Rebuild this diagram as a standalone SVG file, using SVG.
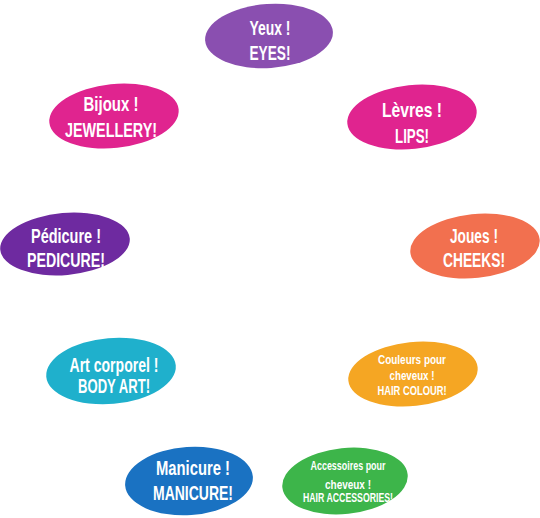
<svg xmlns="http://www.w3.org/2000/svg" width="540" height="518" viewBox="0 0 540 518">
<style>
.t{font-family:"Liberation Sans",Arial,sans-serif;font-weight:bold;fill:#fff;text-anchor:middle}
.b{font-size:21px}
.s{font-size:13px}
.xs{font-size:12px}
</style>
<rect width="540" height="518" fill="#fff"/>
<g id="connectors"/>
<g id="eyes"><ellipse cx="269" cy="36" rx="64" ry="32" fill="#8a4fb0" transform="rotate(-4 269 36)"/>
<text class="t b" x="270" y="35" textLength="41" lengthAdjust="spacingAndGlyphs">Yeux !</text><text class="t b" x="270" y="60" textLength="41" lengthAdjust="spacingAndGlyphs">EYES!</text></g>
<g id="jewellery"><ellipse cx="114" cy="116" rx="65" ry="32" fill="#e0248f" transform="rotate(-6 114 116)"/>
<text class="t b" x="111" y="111" textLength="55" lengthAdjust="spacingAndGlyphs">Bijoux !</text><text class="t b" x="111" y="137" textLength="92" lengthAdjust="spacingAndGlyphs">JEWELLERY!</text></g>
<g id="lips"><ellipse cx="412" cy="117" rx="65" ry="32" fill="#e0248f" transform="rotate(-6 412 117)"/>
<text class="t b" x="412" y="117" textLength="60" lengthAdjust="spacingAndGlyphs">Lèvres !</text><text class="t b" x="412" y="143" textLength="34" lengthAdjust="spacingAndGlyphs">LIPS!</text></g>
<g id="pedicure"><ellipse cx="65" cy="244" rx="65" ry="31" fill="#6e2aa0" transform="rotate(-5 65 244)"/>
<text class="t b" x="66" y="243" textLength="70" lengthAdjust="spacingAndGlyphs">Pédicure !</text><text class="t b" x="66" y="267" textLength="78" lengthAdjust="spacingAndGlyphs">PEDICURE!</text></g>
<g id="cheeks"><ellipse cx="475" cy="246" rx="65" ry="32" fill="#f2704f" transform="rotate(-6 475 246)"/>
<text class="t b" x="474" y="243" textLength="48" lengthAdjust="spacingAndGlyphs">Joues !</text><text class="t b" x="474" y="267" textLength="62" lengthAdjust="spacingAndGlyphs">CHEEKS!</text></g>
<g id="bodyart"><ellipse cx="111" cy="371" rx="65" ry="33" fill="#1fb0cc" transform="rotate(-5 111 371)"/>
<text class="t b" x="114" y="372" textLength="89" lengthAdjust="spacingAndGlyphs">Art corporel !</text><text class="t b" x="114" y="393" textLength="72" lengthAdjust="spacingAndGlyphs">BODY ART!</text></g>
<g id="haircolour"><ellipse cx="413" cy="374" rx="65" ry="32" fill="#f5a623" transform="rotate(-6 413 374)"/>
<text class="t s" x="412" y="364" textLength="68" lengthAdjust="spacingAndGlyphs">Couleurs pour</text><text class="t s" x="412" y="380" textLength="45" lengthAdjust="spacingAndGlyphs">cheveux !</text><text class="t s" x="412" y="395" textLength="69" lengthAdjust="spacingAndGlyphs">HAIR COLOUR!</text></g>
<g id="manicure"><ellipse cx="189" cy="481" rx="64" ry="34" fill="#1a72c2" transform="rotate(-4 189 481)"/>
<text class="t b" x="193" y="475" textLength="74" lengthAdjust="spacingAndGlyphs">Manicure !</text><text class="t b" x="193" y="500" textLength="80" lengthAdjust="spacingAndGlyphs">MANICURE!</text></g>
<g id="hairaccessories"><ellipse cx="345" cy="481" rx="63" ry="33" fill="#3db54a" transform="rotate(-6 345 481)"/>
<text class="t xs" x="348" y="470" textLength="75" lengthAdjust="spacingAndGlyphs">Accessoires pour</text><text class="t xs" x="348" y="489" textLength="46" lengthAdjust="spacingAndGlyphs">cheveux !</text><text class="t xs" x="348" y="502" textLength="90" lengthAdjust="spacingAndGlyphs">HAIR ACCESSORIES!</text></g>
</svg>
